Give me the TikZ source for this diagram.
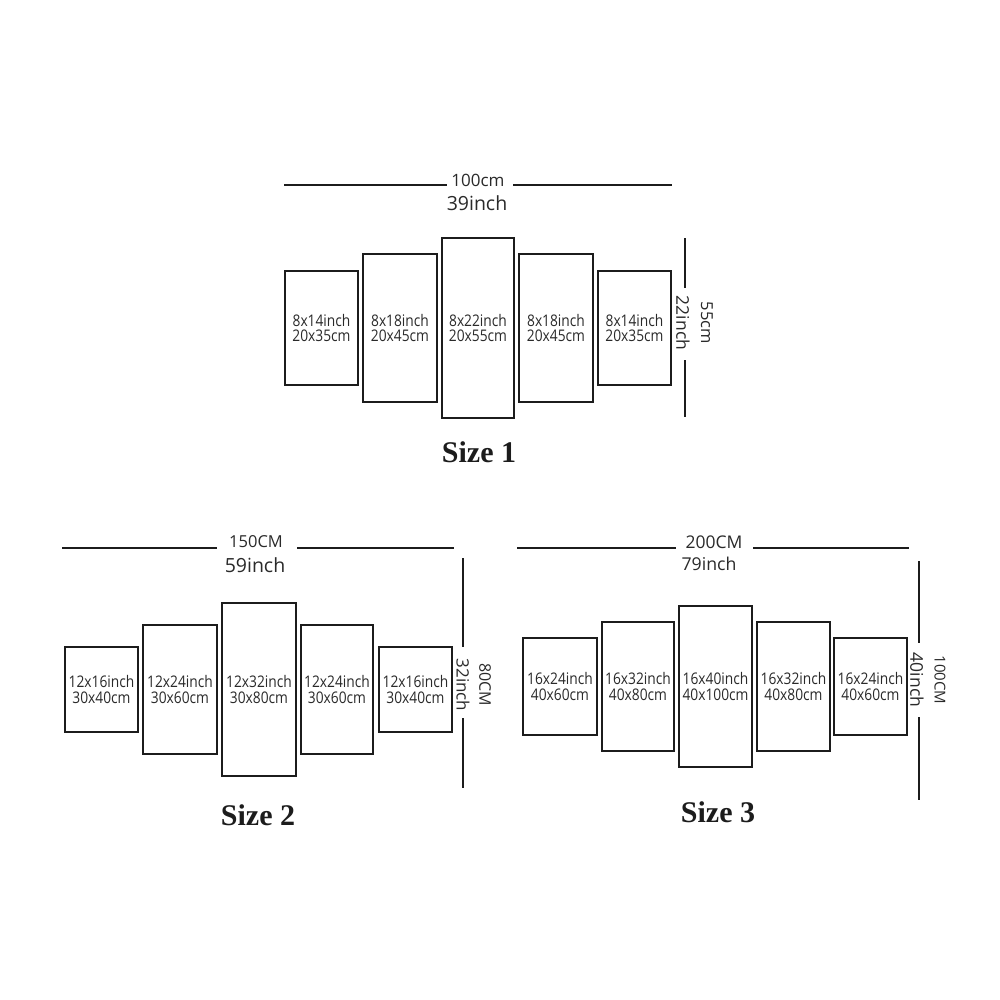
\documentclass[tikz,border=0pt]{standalone}
\usepackage{fontspec}
\setmainfont{Open Sans}
\newfontfamily\boxfont{Open Sans}[FakeStretch=0.86]
\newfontfamily\titlefont{Liberation Serif}
\definecolor{ink}{HTML}{1C1C1C}
\definecolor{txt}{HTML}{2A2A2A}
\begin{document}
\begin{tikzpicture}[x=1pt,y=-1pt,
  panel/.style={draw=ink, line width=1.8pt, rectangle, inner sep=0pt, align=center, text=txt, font=\boxfont\fontsize{16}{15.5}\selectfont},
  dimline/.style={draw=ink, line width=1.8pt},
  cmlbl/.style={text=txt, inner sep=0pt, font=\fontsize{17}{17}\selectfont},
  inlbl/.style={text=txt, inner sep=0pt, font=\fontsize{19.5}{19.5}\selectfont},
  sizetitle/.style={text=ink, inner sep=0pt, font=\titlefont\bfseries\fontsize{30}{30}\selectfont}]
\useasboundingbox[fill=white] (0,0) rectangle (1000,1000);

% ---------------- Size 1 ----------------
\node[panel, minimum width=73, minimum height=114] (s1a) at (321.5,328) {8x14inch\\20x35cm};
\node[panel, minimum width=74, minimum height=148] (s1b) at (400,328) {8x18inch\\20x45cm};
\node[panel, minimum width=72, minimum height=180] (s1c) at (478,328) {8x22inch\\20x55cm};
\node[panel, minimum width=74, minimum height=148] (s1d) at (556,328) {8x18inch\\20x45cm};
\node[panel, minimum width=73, minimum height=114] (s1e) at (634.5,328) {8x14inch\\20x35cm};
\node[cmlbl] (s1w) at (478,180) {100cm};
\node[inlbl] (s1wi) at (477,203) {39inch};
\coordinate (s1l1) at (284,185); \coordinate (s1l2) at (447,185);
\coordinate (s1r1) at (513,185); \coordinate (s1r2) at (672,185);
\draw[dimline] (s1l1) -- (s1l2);
\draw[dimline] (s1r1) -- (s1r2);
\coordinate (s1v1) at (685,238); \coordinate (s1v2) at (685,288);
\coordinate (s1v3) at (685,360); \coordinate (s1v4) at (685,417);
\draw[dimline] (s1v1) -- (s1v2);
\draw[dimline] (s1v3) -- (s1v4);
\node[cmlbl, font=\fontsize{17.5}{17.5}\selectfont, rotate=-90] (s1hi) at (683,323) {22inch};
\node[cmlbl, font=\fontsize{16.5}{16.5}\selectfont, rotate=-90] (s1h) at (707,323) {55cm};
\node[sizetitle] (t1) at (479,452) {Size 1};

% ---------------- Size 2 ----------------
\node[panel, minimum width=73, minimum height=85] (s2a) at (101.5,689.5) {12x16inch\\30x40cm};
\node[panel, minimum width=74, minimum height=129] (s2b) at (180,689.5) {12x24inch\\30x60cm};
\node[panel, minimum width=74, minimum height=173] (s2c) at (259,689.5) {12x32inch\\30x80cm};
\node[panel, minimum width=72, minimum height=129] (s2d) at (337,689.5) {12x24inch\\30x60cm};
\node[panel, minimum width=73, minimum height=85] (s2e) at (415.5,689.5) {12x16inch\\30x40cm};
\node[cmlbl, font=\fontsize{16.5}{16.5}\selectfont] (s2w) at (256,542) {150CM};
\node[inlbl] (s2wi) at (255,565) {59inch};
\coordinate (s2l1) at (62,548); \coordinate (s2l2) at (217,548);
\coordinate (s2r1) at (297,548); \coordinate (s2r2) at (454,548);
\draw[dimline] (s2l1) -- (s2l2);
\draw[dimline] (s2r1) -- (s2r2);
\coordinate (s2v1) at (463,558); \coordinate (s2v2) at (463,647);
\coordinate (s2v3) at (463,718); \coordinate (s2v4) at (463,788);
\draw[dimline] (s2v1) -- (s2v2);
\draw[dimline] (s2v3) -- (s2v4);
\node[cmlbl, rotate=-90] (s2hi) at (463,685) {32inch};
\node[cmlbl, font=\fontsize{16}{16}\selectfont, rotate=-90] (s2h) at (485,685) {80CM};
\node[sizetitle] (t2) at (258,815) {Size 2};

% ---------------- Size 3 ----------------
\node[panel, minimum width=74, minimum height=97] (s3a) at (560,686.5) {16x24inch\\40x60cm};
\node[panel, minimum width=72, minimum height=129] (s3b) at (638,686.5) {16x32inch\\40x80cm};
\node[panel, minimum width=73, minimum height=161] (s3c) at (715.5,686.5) {16x40inch\\40x100cm};
\node[panel, minimum width=73, minimum height=129] (s3d) at (793.5,686.5) {16x32inch\\40x80cm};
\node[panel, minimum width=73, minimum height=97] (s3e) at (870.5,686.5) {16x24inch\\40x60cm};
\node[cmlbl, font=\fontsize{17.5}{17.5}\selectfont] (s3w) at (714,542) {200CM};
\node[inlbl, font=\fontsize{17.7}{17.7}\selectfont] (s3wi) at (709,564) {79inch};
\coordinate (s3l1) at (517,548); \coordinate (s3l2) at (676,548);
\coordinate (s3r1) at (753,548); \coordinate (s3r2) at (909,548);
\draw[dimline] (s3l1) -- (s3l2);
\draw[dimline] (s3r1) -- (s3r2);
\coordinate (s3v1) at (919,561); \coordinate (s3v2) at (919,643);
\coordinate (s3v3) at (919,717); \coordinate (s3v4) at (919,800);
\draw[dimline] (s3v1) -- (s3v2);
\draw[dimline] (s3v3) -- (s3v4);
\node[cmlbl, font=\fontsize{17.5}{17.5}\selectfont, rotate=-90] (s3hi) at (917,680) {40inch};
\node[cmlbl, font=\fontsize{15}{15}\selectfont, rotate=-90] (s3h) at (940,680) {100CM};
\node[sizetitle] (t3) at (718,812) {Size 3};
\end{tikzpicture}
\end{document}
